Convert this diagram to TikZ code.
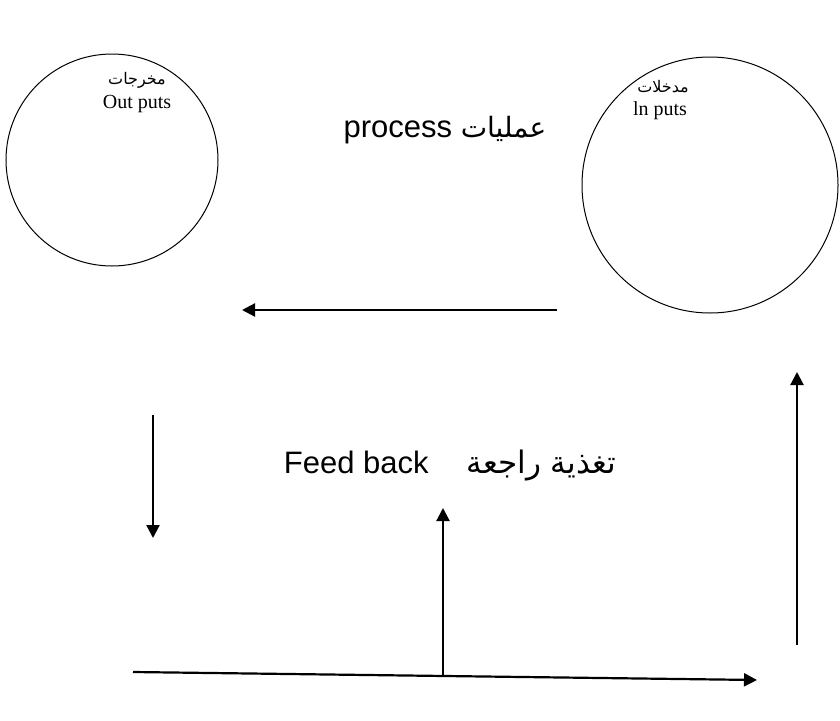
\documentclass[tikz,border=0pt]{standalone}
\usepackage{fontspec}
\setmainfont{Liberation Serif}
\setsansfont{Liberation Sans}
\newfontfamily\arabicfont[Script=Arabic]{DejaVu Sans}
\TeXXeTstate=1
\usetikzlibrary{arrows.meta}
\begin{document}
\begin{tikzpicture}[x=1pt,y=-1pt,
  ring/.style={circle, draw, line width=1pt, inner sep=0pt},
  arr/.style={-{Triangle[length=13pt,width=13pt]}, line width=2.2pt},
  circtext/.style={font=\fontsize{20}{22}\selectfont, inner sep=0pt},
  circar/.style={font=\arabicfont\fontsize{16}{18}\selectfont, inner sep=0pt},
  bigtext/.style={font=\sffamily\fontsize{31}{34}\selectfont, inner sep=0pt}]
\useasboundingbox (0,0) rectangle (840,720);
\node[ring, minimum size=212pt] (out) at (112,160) {};
\node[ring, minimum size=256pt] (in) at (710,185) {};
\node[circar] (outar) at (137,80) {\beginR مخرجات\endR};
\node[circtext] (outen) at (137,104) {Out puts};
\node[circar] (inar) at (663,87) {\beginR مدخلات\endR};
\node[circtext] (inen) at (660,111) {ln puts};
\node[bigtext] (proc) at (445,130) {process {\arabicfont\fontsize{28}{32}\selectfont\beginR عمليات\endR}};
\node[bigtext] (fb) at (450,466) {Feed back\hspace{38pt}{\arabicfont\fontsize{31}{34}\selectfont\beginR تغذية راجعة\endR}};
\coordinate (a1s) at (557,310); \coordinate (a1e) at (242,310);
\coordinate (a2s) at (153,415); \coordinate (a2e) at (153,538);
\coordinate (a3s) at (443,676); \coordinate (a3e) at (443,508);
\coordinate (a4s) at (797,645); \coordinate (a4e) at (797,372);
\coordinate (a5s) at (133,672); \coordinate (a5e) at (757,680);
\draw[arr] (a1s) -- (a1e);
\draw[arr] (a2s) -- (a2e);
\draw[arr] (a3s) -- (a3e);
\draw[arr] (a4s) -- (a4e);
\draw[arr] (a5s) -- (a5e);
\end{tikzpicture}
\end{document}
